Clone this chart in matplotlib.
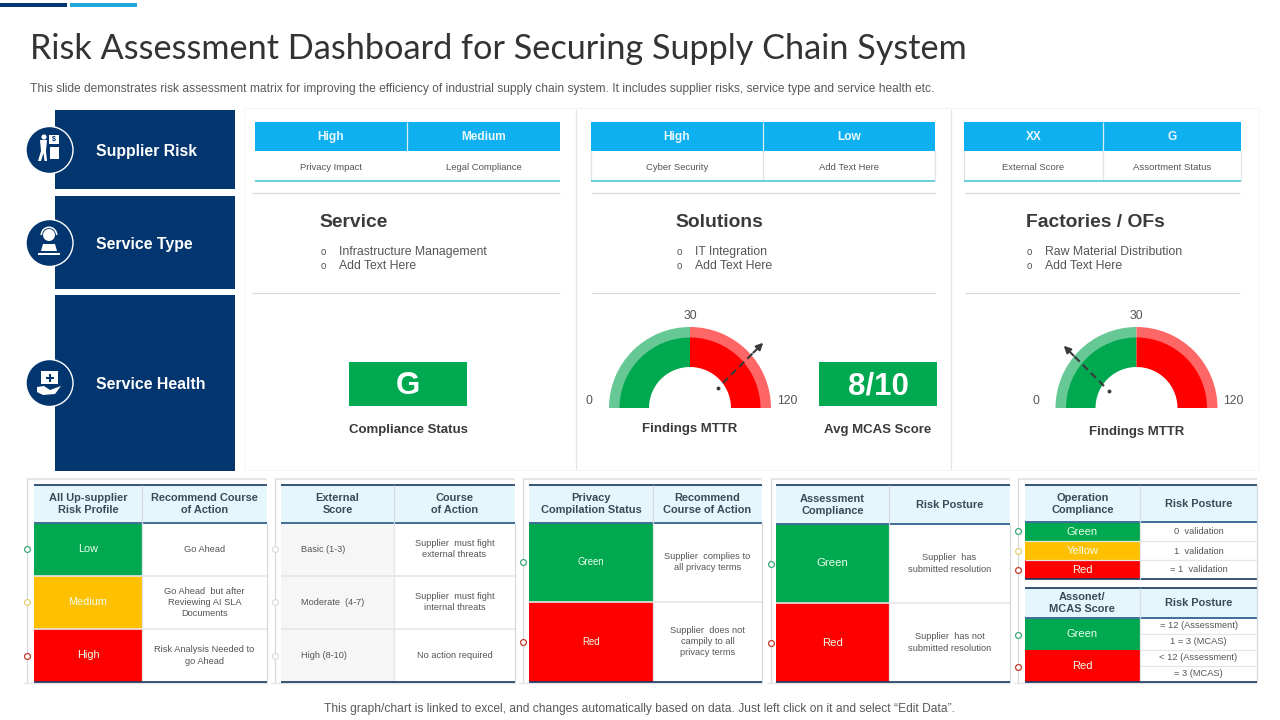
#!/usr/bin/env python3
"""Risk assessment dashboard slide, drawn on one pixel-sized axes."""

import matplotlib
matplotlib.use("Agg")
import matplotlib.pyplot as plt
import numpy as np
from matplotlib.patches import Circle, Polygon, Rectangle, Wedge

NAVY, SKY, TEAL = "#03366f", "#0fb0ef", "#4fc8d8"
GREEN, AMBER, RED = "#00a84f", "#ffc000", "#ff0000"
INK, BODY, LINE = "#3a3a3a", "#555555", "#d9d9d9"
HEAD_BG, HEAD_INK = "#e6f6fd", "#3b4a57"

plt.rcParams["font.family"] = ["Liberation Sans", "DejaVu Sans"]

# ---------------------------------------------------------------- content --
TITLE = "Risk Assessment Dashboard for Securing Supply Chain System"
SUBTITLE = ("This slide demonstrates risk assessment matrix for improving the efficiency "
            "of industrial supply chain system. It includes supplier risks, service type "
            "and service health etc.")
FOOTER = ("This graph/chart is linked to excel, and changes automatically based on data. "
          "Just left click on it and select \u201cEdit Data\u201d.")

SIDE_LABELS = ["Supplier Risk", "Service Type", "Service Health"]

KPI_VALUES = [["High", "Medium"], ["High", "Low"], ["XX", "G"]]
KPI_NAMES = [["Privacy Impact", "Legal Compliance"],
             ["Cyber Security", "Add Text Here"],
             ["External Score", "Assortment Status"]]

SECTION_TITLES = ["Service", "Solutions", "Factories / OFs"]
SECTION_ITEMS = [["Infrastructure Management", "Add Text Here"],
                 ["IT Integration", "Add Text Here"],
                 ["Raw Material Distribution", "Add Text Here"]]

SCORE_VALUES = ["G", "8/10"]
SCORE_NAMES = ["Compliance Status", "Avg MCAS Score"]

GAUGE_TICKS = ["0", "30", "120"]
GAUGE_SHARES = [50, 50]       # green, red
NEEDLE_SHARES = [75, 25]      # percent of the dial, left to right
GAUGE_NAME = "Findings MTTR"

T1_HEAD = ["All Up-supplier\nRisk Profile", "Recommend Course\nof Action"]
T1_LEVELS = ["Low", "Medium", "High"]
T1_ACTIONS = ["Go Ahead", "Go Ahead  but after\nReviewing AI SLA\nDocuments",
              "Risk Analysis Needed to\ngo Ahead"]

T2_HEAD = ["External\nScore", "Course\nof Action"]
T2_LEVELS = ["Basic (1-3)", "Moderate  (4-7)", "High (8-10)"]
T2_ACTIONS = ["Supplier  must fight\nexternal threats", "Supplier  must fight\ninternal threats",
              "No action required"]

T3_HEAD = ["Privacy\nCompilation Status", "Recommend\nCourse of Action"]
T3_LEVELS = ["Green", "Red"]
T3_ACTIONS = ["Supplier  complies to\nall privacy terms",
              "Supplier  does not\ncampily to all\nprivacy terms"]

T4_HEAD = ["Assessment\nCompliance", "Risk Posture"]
T4_LEVELS = ["Green", "Red"]
T4_ACTIONS = ["Supplier  has\nsubmitted resolution", "Supplier  has not\nsubmitted resolution"]

T5_HEAD = ["Operation\nCompliance", "Risk Posture"]
T5_LEVELS = ["Green", "Yellow", "Red"]
T5_ACTIONS = ["0  validation", "1  validation", "= 1  validation"]

T6_HEAD = ["Assonet/\nMCAS Score", "Risk Posture"]
T6_LEVELS = ["Green", "Red"]
T6_ACTIONS = ["= 12 (Assessment)", "1 = 3 (MCAS)", "< 12 (Assessment)", "= 3 (MCAS)"]

LEVEL_COLOURS = {"Low": GREEN, "Medium": AMBER, "High": RED,
                 "Green": GREEN, "Yellow": AMBER, "Red": RED}
DOT_COLOURS = {GREEN: "#3aa878", AMBER: "#e8cf70", RED: "#c0392b"}

# ------------------------------------------------------------------ setup --
fig = plt.figure(figsize=(12.8, 7.2), dpi=100)
ax = fig.add_axes([0, 0, 1, 1])
ax.set_xlim(0, 1280)
ax.set_ylim(720, 0)
ax.axis("off")


def box(x0, y0, x1, y1, color, z=2, **kw):
    ax.add_patch(Rectangle((x0, y0), x1 - x0, y1 - y0, facecolor=color, edgecolor="none",
                           zorder=z, **kw))


def line(x0, y0, x1, y1, color=LINE, lw=0.9, z=3, **kw):
    ax.plot([x0, x1], [y0, y1], color=color, lw=lw, zorder=z, solid_capstyle="butt", **kw)


def label(x, y, s, size=7, color=BODY, ha="center", weight="normal", **kw):
    # va="center" sits about a pixel high against the slide text
    ax.text(x, y + 1, s, fontsize=size, color=color, ha=ha, va="center", weight=weight,
            zorder=6, **kw)


# ------------------------------------------------------------- top strips --
box(0, 3, 67, 7, NAVY)
box(70, 3, 137, 7, "#1fa8dc")
label(30, 48, TITLE, size=24.7, color="#333333", ha="left", family=["Lato", "DejaVu Sans"])
label(30, 88, SUBTITLE, size=8.62, color="#5a5a5a", ha="left")
label(639.5, 708, FOOTER, size=8.65, color="#5a5a5a")

# --------------------------------------------------------------- side tabs --
side_spans = [(110, 189), (196, 289), (295, 471)]
side_cy = [150, 243, 383]
for (y0, y1), cy, name in zip(side_spans, side_cy, SIDE_LABELS):
    box(55, y0, 235, y1, NAVY)
    ax.add_patch(Circle((49.5, cy), 23.5, facecolor=NAVY, edgecolor="white", lw=1, zorder=4))
    label(96, cy + 0.5, name, size=11.4, color="white", ha="left", weight="bold")


def white(patch):
    patch.set(facecolor="white", edgecolor="none", zorder=5)
    ax.add_patch(patch)


# supplier icon: person next to a cart with a $ sign
cy = side_cy[0]
white(Circle((44, cy - 13), 2.6))
white(Polygon([(40, cy - 10), (47, cy - 10), (46, cy + 1), (47, cy + 11), (44.5, cy + 11),
               (43.5, cy + 3), (41, cy + 11), (38, cy + 11), (41, cy + 1)]))
white(Rectangle((50, cy - 3), 9, 12))
white(Rectangle((49, cy - 15), 10, 9))
label(54, cy - 11.5, "$", size=5, color=NAVY, weight="bold")
# service icon: operator with a headset behind a desk
cy = side_cy[1]
white(Circle((49, cy - 8), 6))
white(Wedge((49, cy - 8), 8.5, 180, 360, width=1.6))
white(Polygon([(41, cy + 8), (43, cy + 1), (55, cy + 1), (57, cy + 8)]))
white(Rectangle((38, cy + 10), 22, 1.8))
# health icon: first aid box above a hand
cy = side_cy[2]
white(Rectangle((41, cy - 12), 17, 13))
box(48.5, cy - 9.5, 50.5, cy - 1.5, NAVY, z=6)
box(45.5, cy - 6.5, 53.5, cy - 4.5, NAVY, z=6)
white(Polygon([(37, cy + 4), (44, cy + 3), (50, cy + 7), (61, cy + 3), (55, cy + 11),
               (43, cy + 12), (37, cy + 9)]))

# ------------------------------------------------------------- upper cards --
box(244, 108, 1260, 470.5, "#f5f5f5", z=0)
box(245, 109, 1259, 469.5, "white", z=1)
line(575.5, 109, 575.5, 469, color="#e4e4e4")
line(950.5, 109, 950.5, 469, color="#e4e4e4")

kpi_edges = [(255, 407, 560), (591, 763, 935), (964, 1103, 1241)]
rule_edges = [(252, 560), (592, 935), (965, 1240)]
section_x = [(320, 339), (676, 695), (1026, 1045)]
for i, (x0, xm, x1) in enumerate(kpi_edges):
    box(x0, 122, x1, 151, SKY)
    line(xm, 122, xm, 151, color="#d5eefa")
    if i > 0:
        for xv in (x0, xm, x1):
            line(xv, 151, xv, 181, color="#dfe3e6")
    line(x0, 180.7, x1, 180.7, color=TEAL, lw=1.2)
    label((x0 + xm) / 2, 136, KPI_VALUES[i][0], size=8.6, color="#e9f8ff", weight="bold")
    label((xm + x1) / 2, 136, KPI_VALUES[i][1], size=8.6, color="#e9f8ff", weight="bold")
    label((x0 + xm) / 2, 166, KPI_NAMES[i][0], size=6.8)
    label((xm + x1) / 2, 166, KPI_NAMES[i][1], size=6.8)

    r0, r1 = rule_edges[i]
    line(r0, 192.5, r1, 192.5)
    line(r0, 292.5, r1, 292.5)

    xt, xi = section_x[i]
    label(xt, 221.5, SECTION_TITLES[i], size=13.9, color=INK, ha="left", weight="bold")
    for y, item in zip((251, 265), SECTION_ITEMS[i]):
        label(xt + 3.5, y, "o", size=7, color=BODY)
        label(xi, y, item, size=8.8, color=BODY, ha="left")

for (x0, x1), value, name in zip([(349, 467), (819, 937)], SCORE_VALUES, SCORE_NAMES):
    box(x0, 362, x1, 406, GREEN)
    label((x0 + x1) / 2, 385.5, value, size=22.5, color="white", weight="bold")
    label((x0 + x1) / 2, 428.5, name, size=9.55, color=INK, weight="bold")


# ------------------------------------------------------------------ gauges --
def gauge(cx, needle, pivot, name_y):
    theta = 180.0
    pale = ("#66c995", "#ff6666")
    solid = (GREEN, RED)
    for j, share in enumerate(GAUGE_SHARES):
        sweep = 180.0 * share / sum(GAUGE_SHARES)
        ax.add_patch(Wedge((cx, 408), 81, theta, theta + sweep, width=11,
                           facecolor=pale[j], edgecolor="none", zorder=3))
        ax.add_patch(Wedge((cx, 408), 70.5, theta, theta + sweep, width=29.5,
                           facecolor=solid[j], edgecolor="none", zorder=3))
        theta += sweep
    label(cx - 101, 400.5, GAUGE_TICKS[0], size=8.8)
    label(cx, 315, GAUGE_TICKS[1], size=8.8)
    label(cx + 97, 400.5, GAUGE_TICKS[2], size=8.8)
    label(cx, name_y, GAUGE_NAME, size=9.55, color=INK, weight="bold")

    # needle: pivot dot, dashed shaft, solid head
    angle = np.radians(180.0 + 180.0 * needle / 100.0)
    ux, uy = np.cos(angle), np.sin(angle)
    ax.plot(*pivot, "o", ms=1.8, color=INK, zorder=7)
    ax.plot([pivot[0] + 7 * ux, pivot[0] + 52 * ux], [pivot[1] + 7 * uy, pivot[1] + 52 * uy],
            color=INK, lw=1.5, ls=(0, (3.5, 2)), zorder=7)
    ax.annotate("", xy=(pivot[0] + 64 * ux, pivot[1] + 64 * uy),
                xytext=(pivot[0] + 50 * ux, pivot[1] + 50 * uy),
                arrowprops=dict(arrowstyle="-|>", color=INK, lw=1.5, shrinkA=0, shrinkB=0,
                                mutation_scale=10), zorder=7)


gauge(690, NEEDLE_SHARES[0], (718, 388), 428)
gauge(1136.5, NEEDLE_SHARES[1], (1109, 391), 431)


# ------------------------------------------------------------ lower tables --
def head(x0, xm, x1, y0, y1, titles):
    box(x0, y0, x1, y1, HEAD_BG)
    line(x0, y0, x1, y0, color="#17375e", lw=1.2)
    line(x0, y1, x1, y1, color="#3f6f94", lw=1.4)
    line(xm, y0, xm, y1, color="#d5dde3")
    label((x0 + xm) / 2, (y0 + y1) / 2 - 0.5, titles[0], size=7.9, color=HEAD_INK,
          weight="bold", linespacing=1.25)
    label((xm + x1) / 2, (y0 + y1) / 2 - 0.5, titles[1], size=7.9, color=HEAD_INK,
          weight="bold", linespacing=1.25)


def frame(xl, x1, y0=479, y1=683):
    line(xl, y0, x1, y0, color="#e1e1e1", lw=1.2)
    line(xl, y0, xl, y1, color="#d5d9dc")
    line(xl - 4, y1, x1, y1, color="#e4e4e4")


def dot(x, y, color):
    ax.plot(x, y, "o", ms=4.2, mfc="white", mec=color, mew=0.9, zorder=7)


def table(xl, x0, xm, x1, head_y, ys, titles, levels, actions, size, solid=True):
    frame(xl, x1)
    head(x0, xm, x1, 485, head_y, titles)
    for i, (lv, act) in enumerate(zip(levels, actions)):
        y0, y1 = ys[i], ys[i + 1]
        cy = (y0 + y1) / 2
        if solid:
            box(x0, y0, xm, y1, LEVEL_COLOURS[lv])
            label((x0 + xm) / 2, cy - 1, lv, size=size, color="#eafff0")
            dot(xl, cy, DOT_COLOURS[LEVEL_COLOURS[lv]])
        else:
            box(x0, y0, xm, y1, "#f6f6f6")
            label(x0 + 20, cy - 1, lv, size=size, ha="left")
            dot(xl, cy, "#dcdcdc")
        label((xm + x1) / 2, cy - 1, act, size=6.7, linespacing=1.3)
        if i:
            line(x0, y0, x1, y0, color="#e6e6e6", lw=1.2)
    line(x1, head_y, x1, ys[-1], color="#d5d9dc")
    line(xm, head_y, xm, ys[-1], color="#e3e6e8")
    line(x0, ys[-1], x1, ys[-1], color="#17375e", lw=1.2)


rows3 = [522.5, 575.5, 629, 682]
table(27, 34, 142, 267, 522.5, rows3, T1_HEAD, T1_LEVELS, T1_ACTIONS, 7.8)
table(275, 281, 394, 515, 522.5, rows3, T2_HEAD, T2_LEVELS, T2_ACTIONS, 6.6, solid=False)
table(523, 529, 653, 762, 522.5, [522.5, 602, 681.5], T3_HEAD, T3_LEVELS, T3_ACTIONS, 6.9)
table(771, 776, 889, 1010, 524, [524, 603, 682], T4_HEAD, T4_LEVELS, T4_ACTIONS, 8.2)

# last panel holds two stacked tables
x0, xm, x1 = 1024.5, 1140, 1257
frame(1018, x1)
head(x0, xm, x1, 485, 521.5, T5_HEAD)
rows = [521.5, 541, 560, 579]
for i, (lv, act) in enumerate(zip(T5_LEVELS, T5_ACTIONS)):
    cy = (rows[i] + rows[i + 1]) / 2
    box(x0, rows[i], xm, rows[i + 1], LEVEL_COLOURS[lv])
    label((x0 + xm) / 2, cy - 0.5, lv, size=8, color="#eafff0")
    label((xm + x1) / 2, cy - 0.5, act, size=6.7)
    dot(1018, cy, DOT_COLOURS[LEVEL_COLOURS[lv]])
    if i:
        line(x0, rows[i], x1, rows[i], color="#e6e6e6")
line(x0, 579, x1, 579, color="#17375e", lw=1.2)

head(x0, xm, x1, 587.5, 617.5, T6_HEAD)
rows = [617.5, 649.5, 681.5]
for i, lv in enumerate(T6_LEVELS):
    box(x0, rows[i], xm, rows[i + 1], LEVEL_COLOURS[lv])
    label((x0 + xm) / 2, (rows[i] + rows[i + 1]) / 2 - 0.5, lv, size=8, color="#eafff0")
    dot(1018, (rows[i] + rows[i + 1]) / 2 + 1.5, DOT_COLOURS[LEVEL_COLOURS[lv]])
sub_rows = [617.5, 633.5, 649.5, 665.5, 681.5]
for i, act in enumerate(T6_ACTIONS):
    label((xm + x1) / 2, (sub_rows[i] + sub_rows[i + 1]) / 2 - 0.5, act, size=6.7)
    if i:
        line(xm, sub_rows[i], x1, sub_rows[i], color="#e6e6e6")
line(x1, 485, x1, 681.5, color="#d5d9dc")
line(xm, 521.5, xm, 579, color="#e3e6e8")
line(xm, 617.5, xm, 681.5, color="#e3e6e8")
line(x0, 681.5, x1, 681.5, color="#17375e", lw=1.2)

fig.savefig("out.png", dpi=100, facecolor="white")
